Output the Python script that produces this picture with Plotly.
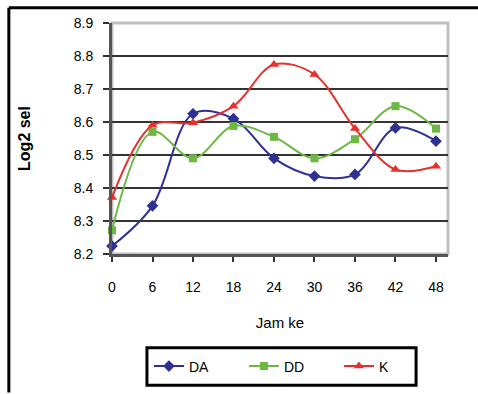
import plotly.graph_objects as go

# Sampling hours and log2 cell counts per treatment
jam = [0, 6, 12, 18, 24, 30, 36, 42, 48]
da = [8.224, 8.346, 8.625, 8.610, 8.490, 8.436, 8.441, 8.582, 8.542]
dd = [8.272, 8.570, 8.490, 8.588, 8.555, 8.490, 8.548, 8.648, 8.580]
k = [8.371, 8.590, 8.598, 8.648, 8.774, 8.744, 8.580, 8.456, 8.466]

y_ticks = [8.2, 8.3, 8.4, 8.5, 8.6, 8.7, 8.8, 8.9]
x_ticks = [0, 6, 12, 18, 24, 30, 36, 42, 48]

series = [
    ("DA", da, "#2e3192", "diamond", 9),
    ("DD", dd, "#6db843", "square", 8),
    ("K", k, "#e5312e", "triangle-up", 9),
]

fig = go.Figure()
for name, vals, color, symbol, size in series:
    fig.add_trace(go.Scatter(
        x=jam, y=vals, name=name, mode="lines+markers",
        line=dict(color=color, width=2, shape="spline", smoothing=1.0),
        marker=dict(color=color, symbol=symbol, size=size),
        cliponaxis=False,
    ))

family = "Liberation Sans, Arial, sans-serif"

# plot-area border (light top/right), drawn beneath the axis lines
fig.add_shape(type="rect", xref="paper", yref="paper", x0=0, x1=1, y0=0, y1=1,
              line=dict(color="#c0c0c0", width=3), layer="below")
# outer chart frame (left and top edges)
fig.add_shape(type="line", xref="paper", yref="paper", x0=-0.307, x1=-0.307,
              y0=1.066, y1=-0.6, line=dict(color="#000", width=3))
fig.add_shape(type="line", xref="paper", yref="paper", x0=-0.307, x1=1.1,
              y0=1.066, y1=1.066, line=dict(color="#000", width=3))
# legend frame
fig.add_shape(type="rect", xref="paper", yref="paper", x0=0.104, x1=0.905,
              y0=-0.568, y1=-0.406, line=dict(color="#000", width=3),
              fillcolor="white")

fig.update_layout(
    width=478, height=394,
    margin=dict(l=112, r=30, t=23, b=137),
    paper_bgcolor="white", plot_bgcolor="white",
    font=dict(family=family, size=14, color="#000"),
    showlegend=True,
    legend=dict(
        orientation="h", x=0.11, y=-0.487, xanchor="left", yanchor="middle",
        borderwidth=0, bgcolor="rgba(0,0,0,0)",
        font=dict(family=family, size=14, color="#000"),
        entrywidth=50, entrywidthmode="pixels", tracegroupgap=0,
    ),
    xaxis=dict(
        range=[0, 49.78], tickvals=x_ticks, ticktext=[str(v) for v in x_ticks],
        showgrid=False, zeroline=False,
        showline=True, linecolor="#555", linewidth=3,
        ticks="outside", ticklen=5, tickwidth=2, tickcolor="#333",
        ticklabelstandoff=13,
        title=dict(text="Jam ke", font=dict(size=15), standoff=24),
    ),
    yaxis=dict(
        range=[8.2, 8.9], tickvals=y_ticks, ticktext=[f"{v:.1f}" for v in y_ticks],
        showgrid=True, gridcolor="#333", gridwidth=2, zeroline=False,
        showline=True, linecolor="#555", linewidth=3,
        ticks="outside", ticklen=6, tickwidth=2, tickcolor="#333",
        ticklabelstandoff=7,
        title=dict(text="<b>Log2 sel</b>", font=dict(size=16), standoff=40),
    ),
)

fig.write_html("out.html")
